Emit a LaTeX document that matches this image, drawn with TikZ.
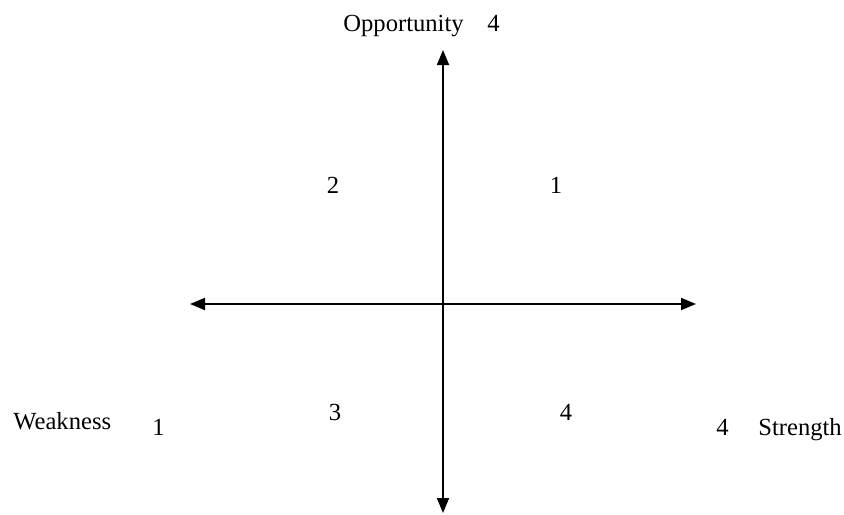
\documentclass[tikz,border=0pt]{standalone}
\usepackage{fontspec}
\setmainfont{Liberation Serif}
\usetikzlibrary{arrows.meta}

\begin{document}
\begin{tikzpicture}[
    x=0.5pt, y=-0.5pt,
    axis/.style={{Triangle[length=7.5pt, width=6pt]}-{Triangle[length=7.5pt, width=6pt]}, line width=0.9pt},
    word/.style={anchor=base west, inner sep=0pt, font=\fontsize{12.3}{14}\selectfont},
    num/.style={anchor=base, inner sep=0pt, font=\fontsize{12.3}{14}\selectfont}
]
\useasboundingbox (0,0) rectangle (844,514);

% axis ends
\coordinate (top) at (443,50);
\coordinate (bottom) at (443,513);
\coordinate (left) at (190,304);
\coordinate (right) at (696,304);

% axes
\draw[axis] (top) -- (bottom);
\draw[axis] (left) -- (right);

% axis labels
\node[word] (opp) at (343,31) {Opportunity};
\node[word] (oppval) at (487,31) {4};
\node[word] (weak) at (13,429) {Weakness};
\node[word] (weakval) at (152,435) {1};
\node[word] (strval) at (716,435) {4};
\node[word] (str) at (758,435) {Strength};

% quadrants
\node[num] (q1) at (556,193) {1};
\node[num] (q2) at (333,193) {2};
\node[num] (q3) at (335,420) {3};
\node[num] (q4) at (566,420) {4};

\end{tikzpicture}
\end{document}
